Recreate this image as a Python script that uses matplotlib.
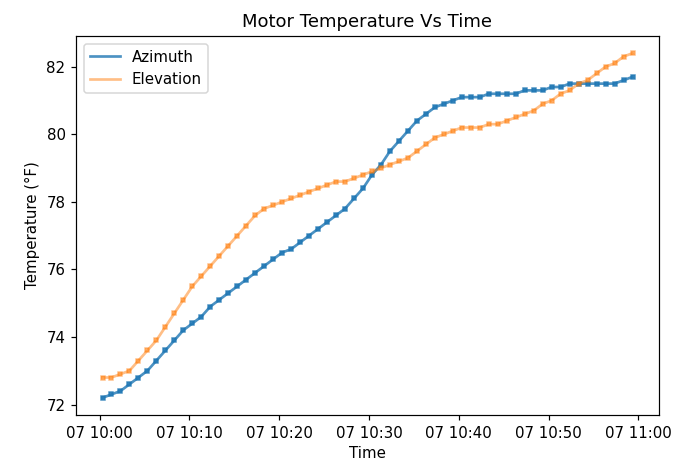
import numpy as np
import pandas as pd
import matplotlib
matplotlib.use('Agg')
import matplotlib.pyplot as plt
import matplotlib.dates as mdates

# readings once a minute, starting 10:00:20
start_time = '2022-06-07 10:00:20'
n_samples = 60

azimuth = [72.2, 72.3, 72.4, 72.6, 72.8, 73.0, 73.3, 73.6, 73.9, 74.2,
           74.4, 74.6, 74.9, 75.1, 75.3, 75.5, 75.7, 75.9, 76.1, 76.3,
           76.5, 76.6, 76.8, 77.0, 77.2, 77.4, 77.6, 77.8, 78.1, 78.4,
           78.8, 79.1, 79.5, 79.8, 80.1, 80.4, 80.6, 80.8, 80.9, 81.0,
           81.1, 81.1, 81.1, 81.2, 81.2, 81.2, 81.2, 81.3, 81.3, 81.3,
           81.4, 81.4, 81.5, 81.5, 81.5, 81.5, 81.5, 81.5, 81.6, 81.7]

elevation = [72.8, 72.8, 72.9, 73.0, 73.3, 73.6, 73.9, 74.3, 74.7, 75.1,
             75.5, 75.8, 76.1, 76.4, 76.7, 77.0, 77.3, 77.6, 77.8, 77.9,
             78.0, 78.1, 78.2, 78.3, 78.4, 78.5, 78.6, 78.6, 78.7, 78.8,
             78.9, 79.0, 79.1, 79.2, 79.3, 79.5, 79.7, 79.9, 80.0, 80.1,
             80.2, 80.2, 80.2, 80.3, 80.3, 80.4, 80.5, 80.6, 80.7, 80.9,
             81.0, 81.2, 81.3, 81.5, 81.6, 81.8, 82.0, 82.1, 82.3, 82.4]

times = pd.date_range(start_time, periods=n_samples, freq='1min')

fig = plt.figure(figsize=(678 / 108, 470 / 108), dpi=108)
ax = fig.add_axes([76 / 678, 55 / 470, 583 / 678, 379 / 470])

# thin marks at each reading give the slightly jagged look of the original
ax.plot(times, azimuth, color='#1f77b4', alpha=0.8, linewidth=1.8,
        marker='s', markersize=2.2, label='Azimuth')
ax.plot(times, elevation, color='#ff7f0e', alpha=0.5, linewidth=1.8,
        marker='s', markersize=2.2, label='Elevation')

ax.xaxis.set_major_locator(mdates.MinuteLocator(byminute=range(0, 60, 10)))
ax.xaxis.set_major_formatter(mdates.DateFormatter('%d %H:%M'))

ax.set_title('Motor Temperature Vs Time')
ax.set_xlabel('Time')
ax.set_ylabel('Temperature (°F)')
leg = ax.legend(loc='upper left')
for h in leg.legend_handles:
    h.set_marker('')

fig.savefig('out.png', dpi=108)
